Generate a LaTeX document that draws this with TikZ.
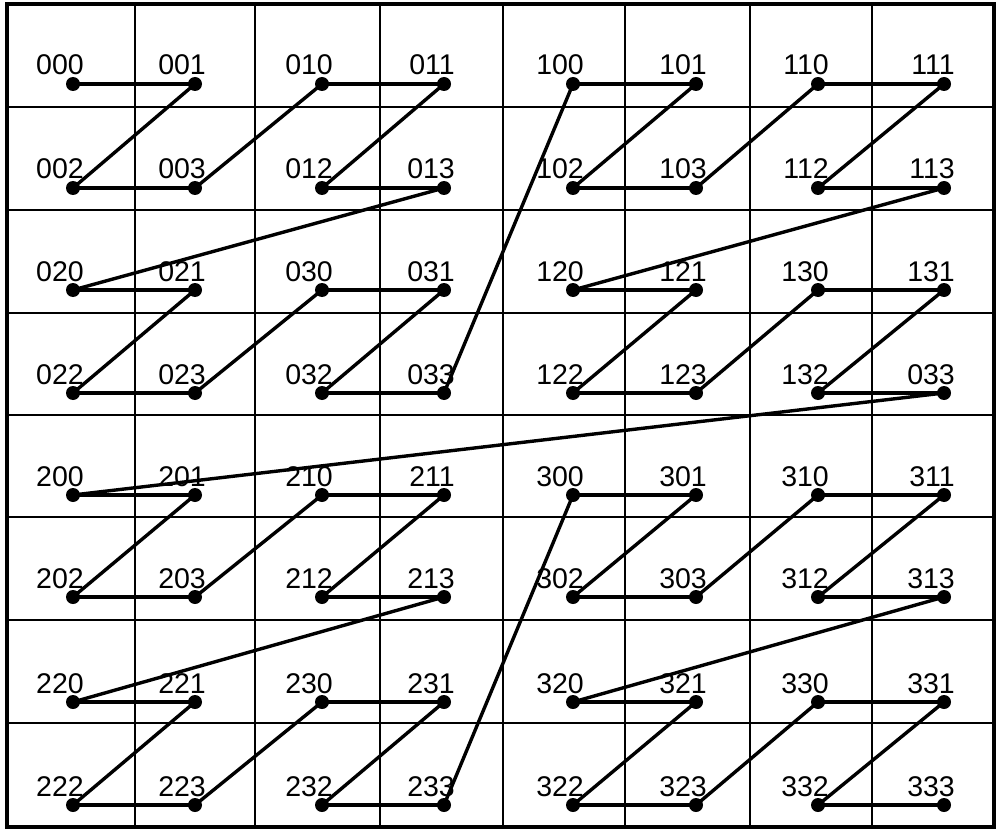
\documentclass[tikz,border=0pt]{standalone}
\usepackage{fontspec}
\setmainfont{Liberation Sans}
\begin{document}
\begin{tikzpicture}[x=1pt,y=-1pt,
  gridline/.style={line width=1.8pt},
  frame/.style={line width=3.2pt},
  dot/.style={circle,fill=black,inner sep=0pt,minimum size=14pt},
  lbl/.style={anchor=base east,font=\fontsize{28.5}{30}\selectfont,inner sep=0pt},
  zline/.style={line width=3.4pt,line cap=round}]
\useasboundingbox (0,0) rectangle (1001,829);
\foreach \x in {135,255,380,503,625,750,872} \draw[gridline] (\x,4) -- (\x,827);
\foreach \y in {107,210,313,415,517,620,723} \draw[gridline] (7,\y) -- (994,\y);
\draw[frame] (7,4) rectangle (994,827);
\foreach \a in {0,...,3}{
 \foreach \b in {0,...,3}{
  \foreach \c in {0,...,3}{
   \pgfmathtruncatemacro\col{4*mod(\a,2)+2*mod(\b,2)+mod(\c,2)}
   \pgfmathtruncatemacro\row{4*div(\a,2)+2*div(\b,2)+div(\c,2)}
   \pgfmathtruncatemacro\code{100*\a+10*\b+\c}
   \pgfmathsetmacro\px{{73,195,322,444,573,696,818,944}[\col]}
   \pgfmathsetmacro\py{{84,188,290,393,495,597,702,805}[\row]}
   \node[dot] (n\a\b\c) at (\px,\py) {};
   \node[lbl] (l\a\b\c) at (\px+11,\py-9) {\ifnum\code=133 033\else\a\b\c\fi};
  }
 }
}
\foreach \i in {1,...,63}{
  \pgfmathtruncatemacro\j{\i-1}
  \pgfmathtruncatemacro\pa{div(\j,16)}
  \pgfmathtruncatemacro\pb{mod(div(\j,4),4)}
  \pgfmathtruncatemacro\pc{mod(\j,4)}
  \pgfmathtruncatemacro\qa{div(\i,16)}
  \pgfmathtruncatemacro\qb{mod(div(\i,4),4)}
  \pgfmathtruncatemacro\qc{mod(\i,4)}
  \draw[zline] (n\pa\pb\pc.center) -- (n\qa\qb\qc.center);
}
\end{tikzpicture}
\end{document}
